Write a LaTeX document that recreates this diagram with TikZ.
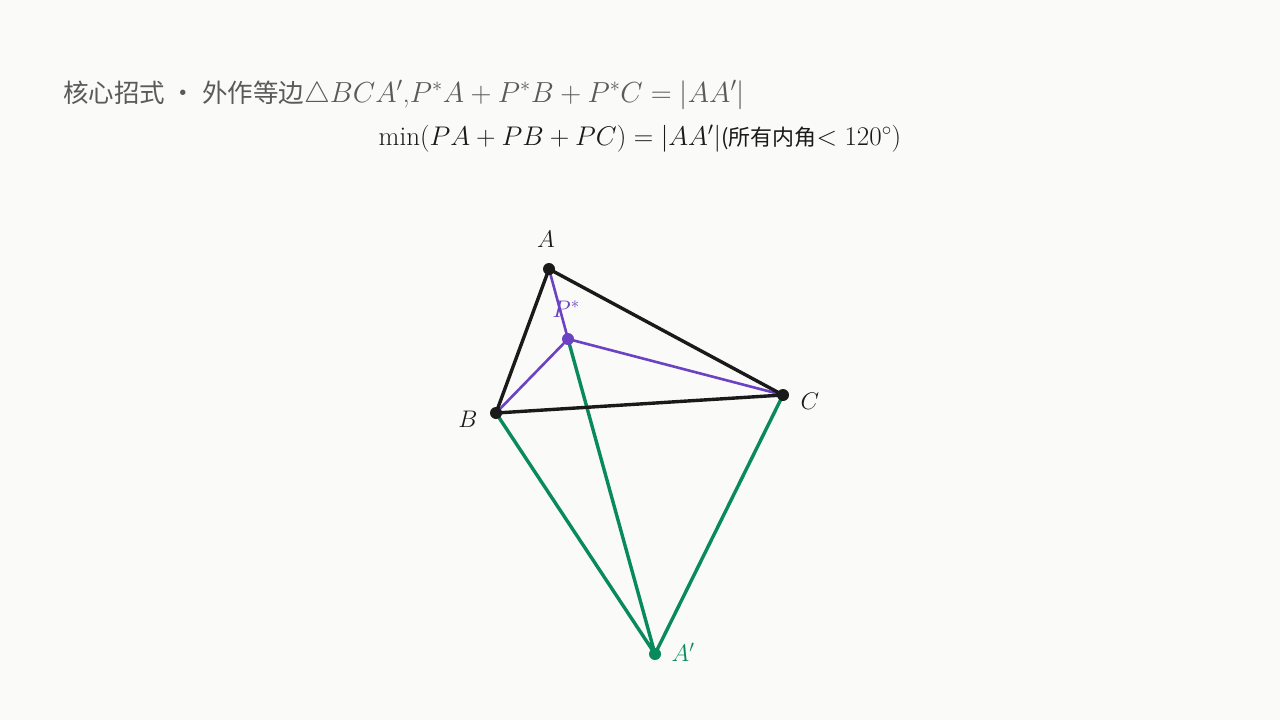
\RequirePackage{fix-cm}
\documentclass[tikz,border=0pt]{standalone}
\usepackage{amsmath,amssymb}
\usepackage{fontspec}
\newfontfamily\cjk{Noto Sans CJK SC}
\definecolor{bgc}{HTML}{FAFAF8}
\definecolor{tgray}{HTML}{5A5A5A}
\definecolor{ink}{HTML}{1A1A1A}
\definecolor{vio}{HTML}{6A42C2}
\definecolor{grn}{HTML}{088A5E}
\newcommand{\vtx}[2]{node[fill=#1,circle,inner sep=0pt,minimum size=12pt]{}}
\newcommand{\fs}[1]{\fontsize{#1}{#1}\selectfont}
\tikzset{
  lbl/.style={font=\fs{24},inner sep=0pt},
  ttl/.style={inner sep=0pt,anchor=base west}
}
\begin{document}
\begin{tikzpicture}[x=1pt,y=-1pt]
      \useasboundingbox[fill=bgc] (0,0) rectangle (1280,720);
      \coordinate (a) at (549,269);
      \coordinate (b) at (496,413);
      \coordinate (c) at (783,395);
      \coordinate (p) at (568,339);
      \coordinate (ap) at (655,654);
      % lines
      \draw[grn,line width=3.4pt] (b) -- (ap) -- (c) (p) -- (ap);
      \draw[vio,line width=2.6pt] (a) -- (p) (b) -- (p) -- (c);
      \draw[ink,line width=3.4pt,line join=round] (a) -- (b) -- (c) -- cycle;
      % points
      \path (a) \vtx{ink}{} (b) \vtx{ink}{} (c) \vtx{ink}{} (p) \vtx{vio}{} (ap) \vtx{grn}{};
      \node[lbl,ink] (la) at (546,239) {$A$};
      \node[lbl,ink] (lb) at (468,419) {$B$};
      \node[lbl,ink] (lc) at (810,401) {$C$};
      \node[lbl,vio] (lp) at (566,309) {$P^*$};
      \node[lbl,grn] (lap) at (683,652) {$A'$};
      % title
      \node[ttl,tgray] (t1) at (63,102) {{\fs{25.5}\cjk 核心招式 · 外作等边}{\fs{29}$\triangle BCA'$,$P^*A+P^*B+P^*C=|AA'|$}};
      \node[ttl,ink,anchor=base] (t2) at (640,145) {{\fs{27}$\min(PA+PB+PC)=|AA'|$}{\fs{22}\cjk (所有内角}{\fs{27}$<120^\circ)$}};
\end{tikzpicture}
\end{document}
